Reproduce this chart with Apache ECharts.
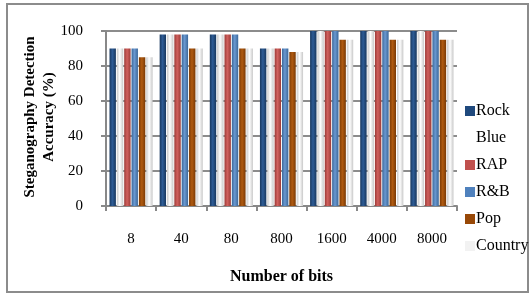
<!DOCTYPE html>
<html><head><meta charset="utf-8">
<script src="https://cdn.jsdelivr.net/npm/echarts@6/dist/echarts.min.js"></script>
<style>html,body{margin:0;padding:0;background:#fff}#c{width:531px;height:295px}</style>
</head><body><div id="c"></div>
<script>
const categories = ['8','40','80','800','1600','4000','8000'];
const rock    = [90, 98, 98, 90, 100, 100, 100];
const blue    = [90, 98, 98, 90, 100, 100, 100];
const rap     = [90, 98, 98, 90, 100, 100, 100];
const rnb     = [90, 98, 98, 90, 100, 100, 100];
const pop     = [85, 90, 90, 88, 95, 95, 95];
const country = [85, 90, 90, 88, 95, 95, 95];
const yTicks = [0, 20, 40, 60, 80, 100];

const font = '"Liberation Serif", "Times New Roman", serif';
function grad(edge, mid) {
  return new echarts.graphic.LinearGradient(0,0,1,0,[
    {offset:0,color:edge},{offset:0.45,color:mid},{offset:1,color:edge}]);
}
const defs = [
  ['Rock', rock, '#1F497D', '#17375E', '#2E5C96'],
  ['Blue', blue, '#FFFFFF', '#C8C8C8', '#FFFFFF'],
  ['RAP', rap, '#C0504D', '#9B3A37', '#D0605D'],
  ['R&B', rnb, '#4F81BD', '#3B6799', '#6A98D0'],
  ['Pop', pop, '#984807', '#7A3A05', '#B05A10'],
  ['Country', country, '#F2F2F2', '#C8C8C8', '#FFFFFF']
];
const series = defs.map(d => ({
  name: d[0], type: 'bar', data: d[1],
  barGap: '15%', barCategoryGap: '14%',
  itemStyle: { color: grad(d[3], d[4]) },
  emphasis: { disabled: true }
}));
const chart = echarts.init(document.getElementById('c'), null, {renderer:'canvas'});
chart.setOption({
  animation: false,
  color: defs.map(d => d[2]),
  grid: { left: 106, right: 74, top: 31, bottom: 89, containLabel: false },
  graphic: [{
    type: 'rect', shape: { x: 7, y: 4, width: 521, height: 288 },
    style: { fill: 'none', stroke: '#8c8c8c', lineWidth: 2 }, silent: true, z: -10
  }, {
    type: 'text', x: 40, y: 117, rotation: Math.PI/2,
    style: { text: 'Steganography Detection\nAccuracy (%)', font: 'bold 15px ' + font,
      fill: '#000', align: 'center', verticalAlign: 'middle', lineHeight: 19 }
  }],
  legend: {
    orient: 'vertical', left: 460, top: 98, itemWidth: 10, itemHeight: 10, itemGap: 11,
    icon: 'rect', textStyle: { fontFamily: font, fontSize: 16, lineHeight: 16, color: '#000', padding: [0,0,0,-4] },
    data: defs.map(d => ({ name: d[0], itemStyle: { color: d[2] } }))
  },
  xAxis: {
    type: 'category', data: categories,
    name: 'Number of bits', nameLocation: 'middle', nameGap: 63,
    nameTextStyle: { fontFamily: font, fontSize: 16, fontWeight: 'bold', color: '#000' },
    axisLine: { lineStyle: { color: '#888', width: 2 } },
    axisTick: { show: true, length: 5, lineStyle: { color: '#888', width: 2 } },
    axisLabel: { fontFamily: font, fontSize: 15, color: '#000', margin: 26 }
  },
  yAxis: {
    type: 'value', min: 0, max: 100, interval: 20,
    axisLine: { show: true, lineStyle: { color: '#888', width: 2 } },
    axisTick: { show: true, length: 5, lineStyle: { color: '#888', width: 2 } },
    axisLabel: { fontFamily: font, fontSize: 15, color: '#000', margin: 23,
      formatter: v => yTicks.includes(v) ? String(v) : '' },
    splitLine: { show: true, lineStyle: { color: '#8c8c8c', width: 2 } }
  },
  series: series
});
</script></body></html>
